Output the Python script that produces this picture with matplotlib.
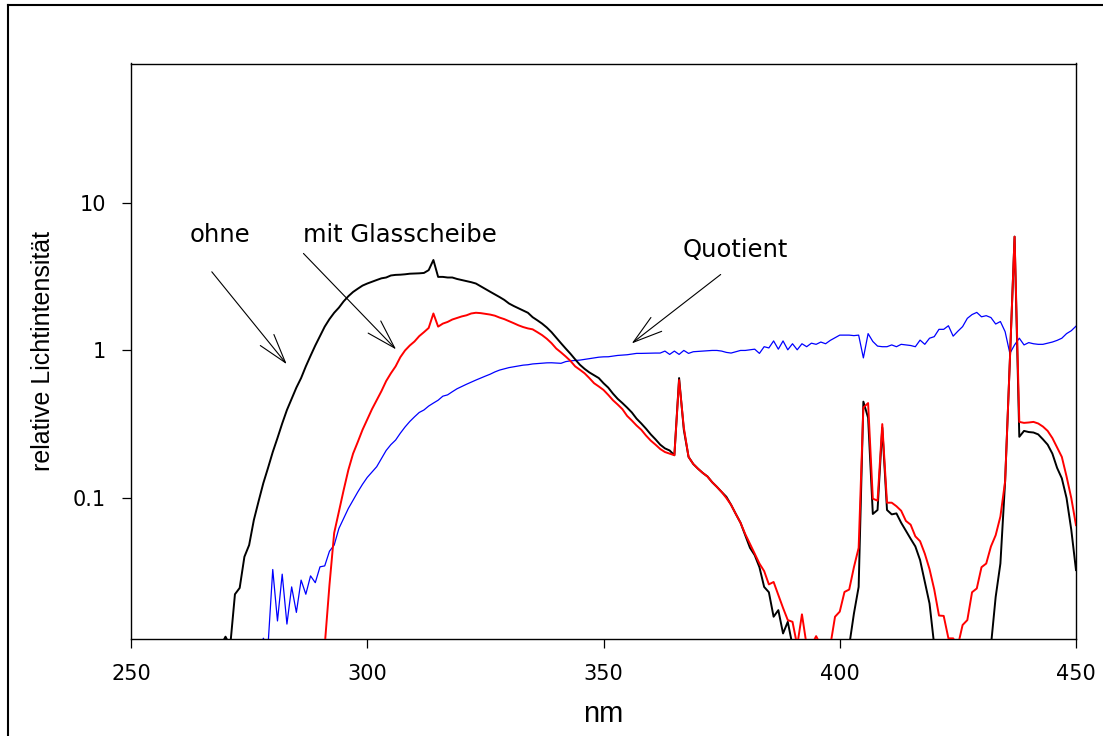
import matplotlib
matplotlib.use("Agg")
import matplotlib.pyplot as plt
from matplotlib.lines import Line2D
from matplotlib.ticker import NullLocator, FixedLocator, FixedFormatter

# ---------------- data ----------------
BELOW = 0.01  # reading below the lower axis limit

ohne_nm = list(range(269, 451))
ohne_val = [
    BELOW, 0.0115, BELOW, 0.0223, 0.0246, 0.040, 0.048, 0.071, 0.095, 0.126,   # 269-278
    0.16, 0.205, 0.255, 0.32, 0.395, 0.47, 0.56, 0.65, 0.78, 0.92,             # 279-288
    1.08, 1.25, 1.45, 1.63, 1.80, 1.95, 2.15, 2.33, 2.49, 2.62,                # 289-298
    2.75, 2.84, 2.92, 3.0, 3.08, 3.12, 3.22, 3.25, 3.26, 3.28,                 # 299-308
    3.31, 3.32, 3.33, 3.35, 3.5, 4.1, 3.15, 3.15, 3.12, 3.12,                  # 309-318
    3.05, 3.0, 2.95, 2.9, 2.84, 2.72, 2.6, 2.5, 2.4, 2.3,                      # 319-328
    2.2, 2.08, 2.0, 1.93, 1.86, 1.8, 1.68, 1.6, 1.52, 1.43,                    # 329-338
    1.33, 1.22, 1.12, 1.03, 0.95, 0.87, 0.8, 0.75, 0.71, 0.68,                 # 339-348
    0.65, 0.6, 0.56, 0.51, 0.47, 0.44, 0.41, 0.38, 0.345, 0.32,                # 349-358
    0.295, 0.27, 0.25, 0.23, 0.217, 0.21, 0.195, 0.65, 0.29, 0.19,             # 359-368
    0.17, 0.158, 0.148, 0.14, 0.128, 0.119, 0.11, 0.102, 0.09, 0.078,          # 369-378
    0.068, 0.056, 0.046, 0.041, 0.034, 0.025, 0.023, 0.0157, 0.0174, 0.0121,   # 379-388
    0.0145, BELOW, BELOW, BELOW, BELOW, BELOW, BELOW, BELOW, BELOW, BELOW,     # 389-398
    BELOW, BELOW, BELOW, BELOW, 0.0165, 0.025, 0.45, 0.35, 0.078, 0.083,       # 399-408
    0.30, 0.083, 0.0775, 0.0787, 0.068, 0.060, 0.053, 0.047, 0.038, 0.027,     # 409-418
    0.0193, BELOW, BELOW, BELOW, BELOW, BELOW, BELOW, BELOW, BELOW, BELOW,     # 419-428
    BELOW, BELOW, BELOW, BELOW, 0.0214, 0.036, 0.13, 0.85, 5.9, 0.26,          # 429-438
    0.285, 0.28, 0.278, 0.27, 0.25, 0.23, 0.20, 0.16, 0.136, 0.10,             # 439-448
    0.061, 0.0325,                                                             # 449-450
]

glas_nm = list(range(291, 451))
glas_val = [
    BELOW, 0.0257, 0.058, 0.081, 0.113, 0.155, 0.20, 0.24, 0.29, 0.34,         # 291-300
    0.40, 0.46, 0.53, 0.62, 0.70, 0.78, 0.90, 1.0, 1.08, 1.15,                 # 301-310
    1.25, 1.33, 1.42, 1.78, 1.45, 1.52, 1.56, 1.62, 1.66, 1.70,                # 311-320
    1.73, 1.78, 1.80, 1.79, 1.77, 1.75, 1.72, 1.67, 1.63, 1.58,                # 321-330
    1.53, 1.48, 1.44, 1.41, 1.39, 1.33, 1.27, 1.20, 1.12, 1.03,                # 331-340
    0.97, 0.91, 0.85, 0.78, 0.74, 0.70, 0.65, 0.60, 0.57, 0.54,                # 341-350
    0.50, 0.46, 0.43, 0.40, 0.36, 0.335, 0.31, 0.29, 0.265, 0.245,             # 351-360
    0.23, 0.215, 0.205, 0.20, 0.195, 0.63, 0.30, 0.19, 0.17, 0.158,            # 361-370
    0.148, 0.14, 0.128, 0.119, 0.11, 0.10, 0.09, 0.078, 0.068, 0.057,          # 371-380
    0.049, 0.042, 0.036, 0.032, 0.026, 0.027, 0.022, 0.018, 0.0149, 0.0145,    # 381-390
    BELOW, 0.0163, BELOW, BELOW, 0.0116, BELOW, BELOW, BELOW, 0.0157, 0.017,   # 391-400
    0.0231, 0.024, 0.034, 0.046, 0.41, 0.44, 0.099, 0.096, 0.317, 0.093,       # 401-410
    0.093, 0.088, 0.082, 0.070, 0.066, 0.055, 0.051, 0.042, 0.033, 0.024,      # 411-420
    0.016, 0.0159, 0.0112, 0.0112, BELOW, 0.0138, 0.0149, 0.023, 0.0244, 0.034, # 421-430
    0.036, 0.047, 0.056, 0.075, 0.13, 0.85, 5.9, 0.328, 0.323, 0.325,          # 431-440
    0.328, 0.32, 0.305, 0.285, 0.255, 0.22, 0.19, 0.14, 0.10, 0.0655,          # 441-450
]

quot_nm = list(range(278, 451))
quot_val = [
    0.0112, BELOW, 0.0328, 0.0147, 0.0305, 0.014, 0.025, 0.0168, 0.0278, 0.0223,  # 278-287
    0.0297, 0.0267, 0.0342, 0.0347, 0.0436, 0.048, 0.0622, 0.0728, 0.085, 0.0968, # 288-297
    0.11, 0.124, 0.138, 0.15, 0.163, 0.185, 0.21, 0.23, 0.247, 0.275,             # 298-307
    0.303, 0.33, 0.355, 0.38, 0.395, 0.42, 0.44, 0.46, 0.49, 0.50,                # 308-317
    0.525, 0.55, 0.57, 0.59, 0.61, 0.63, 0.65, 0.67, 0.69, 0.715,                 # 318-327
    0.736, 0.75, 0.765, 0.775, 0.785, 0.795, 0.80, 0.81, 0.815, 0.82,             # 328-337
    0.824, 0.825, 0.822, 0.818, 0.84, 0.85, 0.855, 0.86, 0.87, 0.88,              # 338-347
    0.89, 0.90, 0.905, 0.906, 0.915, 0.925, 0.93, 0.935, 0.945, 0.955,            # 348-357
    0.955, 0.957, 0.96, 0.96, 0.96, 0.99, 0.94, 0.99, 0.94, 1.0,                  # 358-367
    0.955, 0.98, 0.985, 0.99, 0.995, 1.0, 1.0, 0.99, 0.97, 0.96,                  # 368-377
    0.98, 1.0, 1.0, 1.01, 1.02, 0.955, 1.06, 1.04, 1.16, 1.02,                    # 378-387
    1.16, 1.01, 1.11, 1.01, 1.11, 1.06, 1.12, 1.10, 1.14, 1.11,                   # 388-397
    1.17, 1.22, 1.27, 1.27, 1.27, 1.26, 1.27, 0.89, 1.30, 1.15,                   # 398-407
    1.07, 1.06, 1.06, 1.09, 1.06, 1.10, 1.09, 1.08, 1.06, 1.175,                  # 408-417
    1.10, 1.21, 1.24, 1.39, 1.39, 1.47, 1.25, 1.35, 1.45, 1.65,                   # 418-427
    1.75, 1.81, 1.69, 1.72, 1.67, 1.51, 1.57, 1.34, 0.955, 1.09,                  # 428-437
    1.21, 1.09, 1.13, 1.11, 1.10, 1.10, 1.12, 1.14, 1.17, 1.21,                   # 438-447
    1.30, 1.36, 1.46,                                                             # 448-450
]

x_ticks = [250, 300, 350, 400, 450]
y_ticks = [0.1, 1, 10]
y_tick_labels = ["0.1", "1", "10"]

# ---------------- figure ----------------
W, H = 1103, 736
fig = plt.figure(figsize=(W / 100, H / 100), dpi=100)
fig.patch.set_facecolor("white")

# outer frame (only left and top edges visible in the reference)
fig.add_artist(Line2D([8 / W, 8 / W], [0, 1 - 5 / H], color="black", lw=1.5,
                      transform=fig.transFigure, solid_capstyle="projecting"))
fig.add_artist(Line2D([8 / W, 1], [1 - 5 / H, 1 - 5 / H], color="black", lw=1.5,
                      transform=fig.transFigure, solid_capstyle="projecting"))

ax_l, ax_r, ax_t, ax_b = 131, 1076, 63.5, 639.3
ax = fig.add_axes([ax_l / W, 1 - ax_b / H, (ax_r - ax_l) / W, (ax_b - ax_t) / H])

ax.plot(quot_nm, quot_val, color="#0000ff", lw=0.9, zorder=2)
ax.plot(ohne_nm, ohne_val, color="black", lw=1.4, zorder=3)
ax.plot(glas_nm, glas_val, color="#ff0000", lw=1.4, zorder=4)

ax.set_yscale("log")
ax.set_xlim(250, 450)
ax.set_ylim(10 ** -1.957, 10 ** 1.944)

ax.xaxis.set_major_locator(FixedLocator(x_ticks))
ax.yaxis.set_major_locator(FixedLocator(y_ticks))
ax.yaxis.set_major_formatter(FixedFormatter(y_tick_labels))
ax.yaxis.set_minor_locator(NullLocator())
ax.xaxis.set_minor_locator(NullLocator())

tick_font = dict(family="DejaVu Sans", size=15)
ax.tick_params(axis="both", direction="out", length=6.5, width=0.9, colors="black")
ax.tick_params(axis="x", pad=11.5)
ax.tick_params(axis="y", pad=11.5)
for lab in ax.get_xticklabels() + ax.get_yticklabels():
    lab.set_fontfamily("DejaVu Sans")
    lab.set_fontsize(15)

for sp in ax.spines.values():
    sp.set_linewidth(1.0)
    sp.set_color("black")

ax.set_xlabel("nm", fontfamily="Liberation Sans", fontsize=21, va="baseline")
ax.xaxis.set_label_coords(0.5, -(721.7 - ax_b) / (ax_b - ax_t))
ax.set_ylabel("relative Lichtintensität", fontfamily="Liberation Sans", fontsize=18,
              va="center")
ax.yaxis.set_label_coords((43 - ax_l) / (ax_r - ax_l), 0.5)

# annotations
ann_font = dict(family="DejaVu Sans", size=17.5)
ax.text(268.8, 5.42, "ohne", ha="center", va="baseline", **ann_font)
ax.text(307.0, 5.43, "mit Glasscheibe", ha="center", va="baseline", **ann_font)
ax.text(377.9, 4.27, "Quotient", ha="center", va="baseline", **ann_font)

arrow_style = "->,head_length=21,head_width=6.3"
arrow_props = dict(arrowstyle=arrow_style, color="black", lw=0.8,
                   shrinkA=0, shrinkB=0, mutation_scale=1)
ax.annotate("", xy=(282.95, 0.807), xytext=(267.1, 3.41), arrowprops=arrow_props)
ax.annotate("", xy=(306.1, 1.016), xytext=(286.5, 4.54), arrowprops=arrow_props)
ax.annotate("", xy=(355.97, 1.115), xytext=(374.8, 3.27), arrowprops=arrow_props)

fig.savefig("out.png", dpi=100, facecolor="white")
